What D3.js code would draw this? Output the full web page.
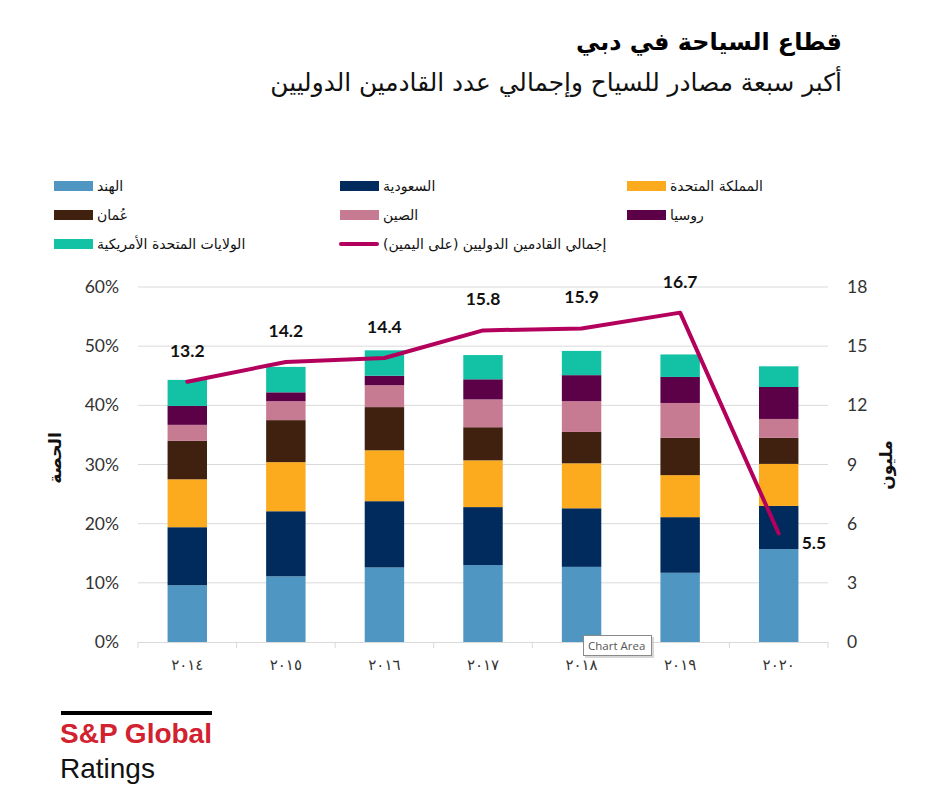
<!DOCTYPE html>
<html><head><meta charset="utf-8">
<script src="https://cdn.jsdelivr.net/npm/d3@7"></script>
<style>
html,body{margin:0;padding:0;background:#fff;}
svg{display:block;}
</style></head>
<body>
<svg id="chart" width="945" height="791"></svg>
<script>
// ---------- DATA ----------
const years = ["2014","2015","2016","2017","2018","2019","2020"];
const yearLabels = ["٢٠١٤","٢٠١٥","٢٠١٦","٢٠١٧","٢٠١٨","٢٠١٩","٢٠٢٠"];
const seriesNames = ["الهند","السعودية","المملكة المتحدة","عُمان","الصين","روسيا","الولايات المتحدة الأمريكية"];
const india   = [9.6, 11.1, 12.6, 13.0, 12.7, 11.7, 15.7];
const saudi   = [9.8, 11.0, 11.2,  9.8,  9.9,  9.4,  7.3];
const uk      = [8.1,  8.3,  8.6,  7.9,  7.6,  7.1,  7.1];
const oman    = [6.5,  7.1,  7.3,  5.6,  5.3,  6.3,  4.4];
const china   = [2.7,  3.2,  3.7,  4.7,  5.2,  5.9,  3.2];
const russia  = [3.2,  1.5,  1.6,  3.4,  4.4,  4.4,  5.4];
const usa     = [4.4,  4.3,  4.3,  4.1,  4.1,  3.8,  3.5];
const arrivals = [13.2, 14.2, 14.4, 15.8, 15.9, 16.7, 5.5];
const lineName = "إجمالي القادمين الدوليين (على اليمين)";
const leftTicks = [0, 10, 20, 30, 40, 50, 60];
const rightTicks = [0, 3, 6, 9, 12, 15, 18];
const title = "قطاع السياحة في دبي";
const subtitle = "أكبر سبعة مصادر للسياح وإجمالي عدد القادمين الدوليين";
const leftTitle = "الحصة";
const rightTitle = "مليون";

// ---------- STYLE ----------
const colors = ["#4f97c2","#002b5c","#fcab1e","#40210f","#c67b93","#5c0048","#13c2a5"];
const lineColor = "#b3005c";
const arabicFont = "'DejaVu Sans', 'Noto Sans', sans-serif";
const numFont = "Lato, 'Open Sans', sans-serif";
const RLM = "\u200F";

const svg = d3.select("#chart");
const plot = {left: 138, right: 828, top: 287, bottom: 642};

const seriesArrays = [india, saudi, uk, oman, china, russia, usa];
const keys = d3.range(seriesArrays.length);
const table = years.map((yr, i) => {
  const row = {year: yr};
  keys.forEach(k => row[k] = seriesArrays[k][i]);
  return row;
});
const stacked = d3.stack().keys(keys)(table);

const x = d3.scaleBand().domain(years).range([plot.left, plot.right]).paddingInner(0.6).paddingOuter(0.3);
const xEdge = d3.scaleLinear().domain([0, years.length]).range([plot.left, plot.right]);
const y = d3.scaleLinear().domain([0, 60]).range([plot.bottom, plot.top]);
const y2 = d3.scaleLinear().domain([0, 18]).range([plot.bottom, plot.top]);

// ---------- TITLES ----------
function fitText(sel, width) {
  const w = sel.node().getComputedTextLength();
  const fs = parseFloat(sel.attr("font-size"));
  sel.attr("font-size", fs * width / w);
}
const t1 = svg.append("text").attr("x", 842).attr("y", 50).attr("text-anchor", "end")
  .attr("font-family", arabicFont).attr("font-weight", "bold").attr("font-size", 30)
  .attr("fill", "#000").text(title + RLM);
fitText(t1, 266);
const t2 = svg.append("text").attr("x", 842).attr("y", 91).attr("text-anchor", "end")
  .attr("font-family", arabicFont).attr("font-size", 24)
  .attr("fill", "#111").text(subtitle + RLM);
fitText(t2, 572);

// ---------- LEGEND ----------
const legendCols = [54, 340, 627];
const legendRows = [186, 215, 244];
const legendItems = seriesNames.map((n, i) => ({name: n, color: colors[i], type: "rect"}))
  .concat([{name: lineName, color: lineColor, type: "line"}]);
const lg = svg.append("g");
legendItems.forEach((it, i) => {
  const cx = legendCols[i % 3], cy = legendRows[Math.floor(i / 3)];
  if (it.type === "rect") {
    lg.append("rect").attr("x", cx).attr("y", cy - 5).attr("width", 39).attr("height", 10).attr("fill", it.color);
  } else {
    lg.append("line").attr("x1", cx + 1).attr("x2", cx + 37).attr("y1", cy).attr("y2", cy)
      .attr("stroke", it.color).attr("stroke-width", 4).attr("stroke-linecap", "round");
  }
  lg.append("text").attr("x", cx + 43).attr("y", cy + 5).attr("font-family", arabicFont)
    .attr("font-size", 14).attr("fill", "#111").text(it.name + RLM);
});

// ---------- GRID ----------
svg.append("g").selectAll("line").data(leftTicks.filter(d => d > 0)).join("line")
  .attr("x1", plot.left).attr("x2", plot.right)
  .attr("y1", d => y(d)).attr("y2", d => y(d))
  .attr("stroke", "#d9d9d9").attr("stroke-width", 1);

// ---------- BARS ----------
svg.append("g").selectAll("g").data(stacked).join("g")
  .attr("fill", (d, i) => colors[i])
  .selectAll("rect").data(d => d).join("rect")
  .attr("x", d => x(d.data.year))
  .attr("width", x.bandwidth())
  .attr("y", d => y(d[1]))
  .attr("height", d => y(d[0]) - y(d[1]));

// ---------- X AXIS ----------
const xa = svg.append("g");
xa.append("line").attr("x1", plot.left).attr("x2", plot.right).attr("y1", plot.bottom + 0.5).attr("y2", plot.bottom + 0.5)
  .attr("stroke", "#d9d9d9");
xa.selectAll("line.tk").data(d3.range(years.length + 1)).join("line").attr("class", "tk")
  .attr("x1", d => xEdge(d)).attr("x2", d => xEdge(d))
  .attr("y1", plot.bottom).attr("y2", plot.bottom + 6).attr("stroke", "#d9d9d9");
xa.selectAll("text").data(years).join("text")
  .attr("x", d => x(d) + x.bandwidth() / 2).attr("y", plot.bottom + 28)
  .attr("text-anchor", "middle").attr("font-family", arabicFont).attr("font-size", 15).attr("fill", "#333")
  .text((d, i) => yearLabels[i]);

// ---------- Y AXES ----------
const la = svg.append("g").attr("transform", `translate(${plot.left},0)`)
  .call(d3.axisLeft(y).tickValues(leftTicks).tickFormat(d => d + "%").tickSize(0).tickPadding(19));
la.select(".domain").remove();
la.selectAll("text").attr("font-family", numFont).attr("font-size", 17.5).attr("fill", "#333");

const ra = svg.append("g").attr("transform", `translate(${plot.right},0)`)
  .call(d3.axisRight(y2).tickValues(rightTicks).tickSize(0).tickPadding(19));
ra.select(".domain").remove();
ra.selectAll("text").attr("font-family", numFont).attr("font-size", 17.5).attr("fill", "#333");

svg.append("text").attr("transform", "translate(61,458) rotate(-90)").attr("text-anchor", "middle")
  .attr("font-family", arabicFont).attr("font-weight", "bold").attr("font-size", 17).attr("fill", "#111")
  .text(leftTitle + RLM);
svg.append("text").attr("transform", "translate(892,465) rotate(-90)").attr("text-anchor", "middle")
  .attr("font-family", arabicFont).attr("font-weight", "bold").attr("font-size", 17).attr("fill", "#111")
  .text(rightTitle + RLM);

// ---------- LINE ----------
const cx = i => x(years[i]) + x.bandwidth() / 2;
svg.append("path").datum(arrivals)
  .attr("fill", "none").attr("stroke", lineColor).attr("stroke-width", 4).attr("stroke-linejoin", "round").attr("stroke-linecap", "round")
  .attr("d", d3.line().x((d, i) => cx(i)).y(d => y2(d)));

const last = arrivals.length - 1;
svg.append("g").selectAll("text").data(arrivals).join("text")
  .attr("x", (d, i) => i === last ? cx(i) + 23 : cx(i))
  .attr("y", (d, i) => i === last ? y2(d) + 15 : y2(d) - 25)
  .attr("text-anchor", (d, i) => i === last ? "start" : "middle")
  .attr("font-family", numFont).attr("font-weight", "bold").attr("font-size", 17.5).attr("fill", "#111")
  .text(d => d3.format(".1f")(d));

// ---------- TOOLTIP (screenshot artifact) ----------
const tip = svg.append("g").attr("transform", "translate(583,635)");
tip.append("rect").attr("x", 2).attr("y", 2).attr("width", 69).attr("height", 21).attr("fill", "#bdbdbd").attr("opacity", 0.6);
tip.append("rect").attr("x", 0.5).attr("y", 0.5).attr("width", 68).attr("height", 20).attr("fill", "#fff").attr("stroke", "#8a8a8a");
tip.append("text").attr("x", 5).attr("y", 15).attr("font-family", "'Open Sans', sans-serif").attr("font-size", 11.5).attr("fill", "#555").text("Chart Area");

// ---------- LOGO ----------
const logo = svg.append("g");
logo.append("rect").attr("x", 61).attr("y", 711).attr("width", 151).attr("height", 4).attr("fill", "#000");
const sp = logo.append("text").attr("x", 60).attr("y", 743).attr("font-family", "'Liberation Sans', Arial, sans-serif")
  .attr("font-weight", "bold").attr("font-size", 27).attr("fill", "#d2212f").text("S&P Global");
fitText(sp, 152);
logo.append("text").attr("x", 60).attr("y", 778).attr("font-family", "'Liberation Sans', Arial, sans-serif")
  .attr("font-size", 28).attr("fill", "#111").text("Ratings");
</script>
</body></html>
